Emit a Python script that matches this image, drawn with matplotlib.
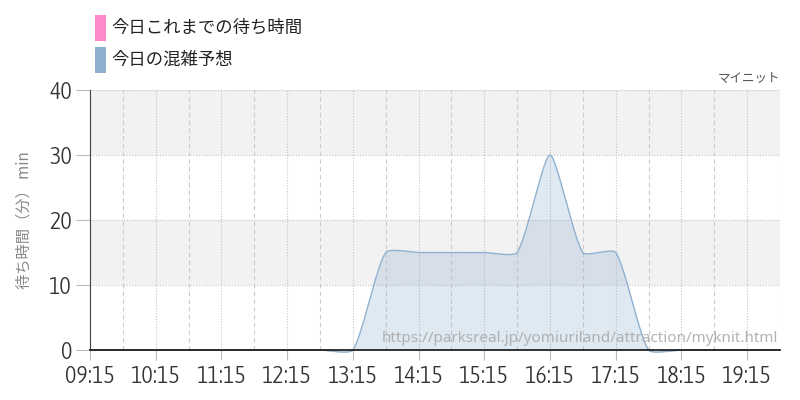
import numpy as np
import matplotlib as mpl
mpl.use("Agg")
import matplotlib.pyplot as plt
from matplotlib import font_manager as fm
from matplotlib.patches import Rectangle

plt.rcParams['font.family'] = ['Noto Sans CJK JP', 'DejaVu Sans']

# data (30-minute slots)
times = ["09:15", "09:45", "10:15", "10:45", "11:15", "11:45", "12:15", "12:45",
         "13:15", "13:45", "14:15", "14:45", "15:15", "15:45", "16:15", "16:45",
         "17:15", "17:45", "18:15", "18:45", "19:15", "19:45"]
forecast = [0, 0, 0, 0, 0, 0, 0, 0,
            0, 15, 15, 15, 15, 15, 30, 15,
            15, 0, 0, 0, 0, 0]
today_so_far = []  # no actual waits recorded yet

tick_labels = ["09:15", "10:15", "11:15", "12:15", "13:15", "14:15",
               "15:15", "16:15", "17:15", "18:15", "19:15"]
y_ticks = [0, 10, 20, 30, 40]

legend_labels = ["今日これまでの待ち時間", "今日の混雑予想"]
legend_colors = ["#ff88c8", "#8fb1cf"]
title_right = "マイニット"
y_label = "待ち時間（分） min"
watermark = "https://parksreal.jp/yomiuriland/attraction/myknit.html"


def to_hours(t):
    h, m = t.split(":")
    return int(h) + int(m) / 60


def smooth(x, y, tension=0.2, sx=65.8, sy=6.5, n=24):
    # bezier smoothing like a web chart's curved line, done in pixel-ish space
    P = np.column_stack([np.asarray(x) * sx, np.asarray(y, dtype=float) * sy])
    k = len(P)
    c_prev = np.zeros_like(P)
    c_next = np.zeros_like(P)
    for i in range(k):
        a = P[max(i - 1, 0)]
        b = P[min(i + 1, k - 1)]
        d01 = np.hypot(*(P[i] - a))
        d12 = np.hypot(*(b - P[i]))
        tot = d01 + d12
        s01 = d01 / tot if tot else 0
        s12 = d12 / tot if tot else 0
        c_prev[i] = P[i] - tension * s01 * (b - a)
        c_next[i] = P[i] + tension * s12 * (b - a)
    t = np.linspace(0, 1, n)[:, None]
    pts = []
    for i in range(k - 1):
        p0, p1, p2, p3 = P[i], c_next[i], c_prev[i + 1], P[i + 1]
        seg = ((1 - t) ** 3) * p0 + 3 * ((1 - t) ** 2) * t * p1 + 3 * (1 - t) * t ** 2 * p2 + t ** 3 * p3
        pts.append(seg if i == 0 else seg[1:])
    pts = np.vstack(pts)
    return pts[:, 0] / sx, pts[:, 1] / sy


# a narrow, regular-weight face for the numbers, if one is installed
narrow = None
for f in sorted(fm.fontManager.ttflist, key=lambda f: f.weight if isinstance(f.weight, int) else 400):
    is_narrow = "Narrow" in f.name or "Condensed" in f.name or f.stretch == "condensed"
    if is_narrow and f.style == "normal" and f.weight in (300, 400, "normal", "light"):
        narrow = fm.FontProperties(fname=f.fname)
        break
if narrow is None:
    narrow = fm.FontProperties(family="DejaVu Sans")

fig = plt.figure(figsize=(8, 4), dpi=100)
ax = fig.add_axes([90 / 800, 50 / 400, 690 / 800, 260 / 400])

x = np.array([to_hours(t) for t in times])
xs, ys = smooth(x, forecast)

ax.set_xlim(to_hours("09:15"), to_hours("19:45"))
ax.set_ylim(0, 40)

# alternating bands
ax.axhspan(10, 20, color="#f2f2f2", zorder=0, lw=0)
ax.axhspan(30, 40, color="#f2f2f2", zorder=0, lw=0)

ax.fill_between(xs, ys, 0, color="#8fb1cf", alpha=0.28, lw=0, zorder=2, clip_on=False)
ax.plot(xs, ys, color="#8fb1cf", lw=1, zorder=3, clip_on=False)

ax.set_yticks(y_ticks)
ax.set_xticks([to_hours(t) for t in tick_labels])
ax.set_xticklabels(tick_labels)
ax.set_xticks([to_hours(t) + 0.5 for t in tick_labels], minor=True)

ax.grid(axis="y", which="major", color="#c4c4c4", ls=(0, (1, 1.5)), lw=0.8, zorder=1)
ax.grid(axis="x", which="major", color="#c4c4c4", ls=(0, (1, 1.5)), lw=0.8, zorder=1)
ax.grid(axis="x", which="minor", color="#cccccc", ls=(0, (4, 3)), lw=0.8, zorder=1)
ax.set_axisbelow(True)

for s in ["top", "right"]:
    ax.spines[s].set_visible(False)
ax.spines["left"].set_color("#444444")
ax.spines["bottom"].set_color("#111111")
ax.spines["bottom"].set_linewidth(1.2)
ax.spines["bottom"].set_zorder(4)

ax.tick_params(axis="y", length=10, color="#bbbbbb", pad=3, labelcolor="#333333")
ax.tick_params(axis="x", which="major", length=7.5, color="#bbbbbb", pad=3, labelcolor="#333333")
ax.tick_params(axis="x", which="minor", length=0)
for lab in ax.get_yticklabels() + ax.get_xticklabels():
    lab.set_fontproperties(narrow)
    lab.set_fontsize(17.5)

ax.set_ylabel(y_label, fontsize=11, color="#888888", labelpad=12)

fig.text(778 / 800, 1 - 338 / 400, watermark, ha="right", va="center",
         fontsize=11, color="#aaaaaa", alpha=0.9, family=["Noto Sans", "DejaVu Sans"], zorder=5)

fig.text(780 / 800, 1 - 78 / 400, title_right, ha="right", va="center", fontsize=9, color="#555555")

# legend
for i, (lab, col) in enumerate(zip(legend_labels, legend_colors)):
    y_top = 15 + i * 32
    fig.patches.append(Rectangle((95 / 800, 1 - (y_top + 26) / 400), 11 / 800, 26 / 400,
                                 transform=fig.transFigure, color=col, lw=0))
    fig.text(111 / 800, 1 - (y_top + 13) / 400, lab, ha="left", va="center",
             fontsize=12.5, color="#222222")

fig.savefig("out.png", dpi=100)
